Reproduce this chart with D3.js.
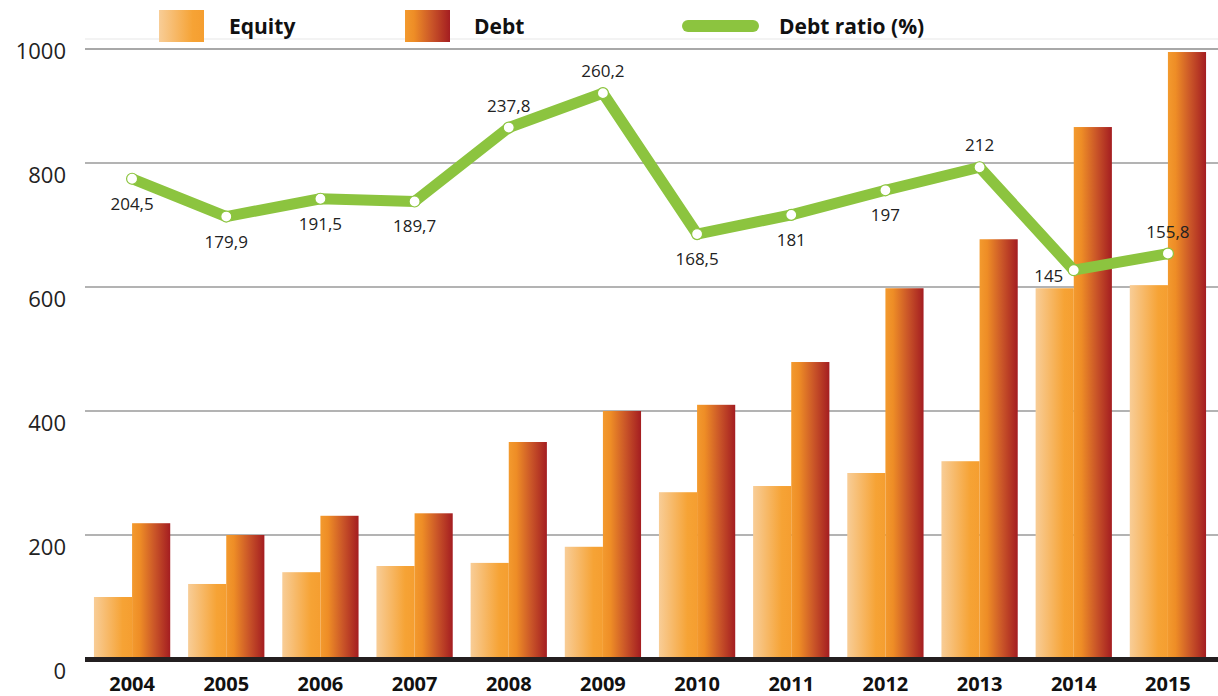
<!DOCTYPE html>
<html>
<head>
<meta charset="utf-8">
<script src="https://cdn.jsdelivr.net/npm/d3@7"></script>
<style>
  body { margin: 0; background: #fff; }
  svg { display: block; font-family: "Open Sans", "Noto Sans", sans-serif; }
</style>
</head>
<body>
<script>
// chart data
var years = ["2004", "2005", "2006", "2007", "2008", "2009", "2010", "2011", "2012", "2013", "2014", "2015"];
var equity = [100, 121, 140, 150, 155, 181, 269, 279, 300, 319, 598, 603];
var debt = [219, 200, 231, 235, 350, 400, 410, 479, 598, 677, 858, 979];
var debtRatio = [204.5, 179.9, 191.5, 189.7, 237.8, 260.2, 168.5, 181, 197, 212, 145, 155.8];
var yTicks = [0, 200, 400, 600, 800, 1000];
// where each ratio label sits relative to its point
var labelSide = ["below", "below", "below", "below", "above", "above", "below", "below", "below", "above", "left", "above"];

var width = 1218, height = 696;
var left = 85, right = 1215, bottom = 659;

var svg = d3.select("body").append("svg")
    .attr("width", width)
    .attr("height", height);

var defs = svg.append("defs");
var gEq = defs.append("linearGradient").attr("id", "gradEquity")
    .attr("x1", 0).attr("x2", 1).attr("y1", 0).attr("y2", 0);
gEq.append("stop").attr("offset", "0%").attr("stop-color", "#f8cd97");
gEq.append("stop").attr("offset", "75%").attr("stop-color", "#f6a335");
gEq.append("stop").attr("offset", "100%").attr("stop-color", "#f59e30");
var gDebt = defs.append("linearGradient").attr("id", "gradDebt")
    .attr("x1", 0).attr("x2", 1).attr("y1", 0).attr("y2", 0);
gDebt.append("stop").attr("offset", "0%").attr("stop-color", "#f39a2e");
gDebt.append("stop").attr("offset", "20%").attr("stop-color", "#ee8d26");
gDebt.append("stop").attr("offset", "60%").attr("stop-color", "#c95428");
gDebt.append("stop").attr("offset", "100%").attr("stop-color", "#a41d21");

// scales
var x0 = d3.scaleBand().domain(years).range([left, right])
    .paddingInner(0.19).paddingOuter(0.095);
var x1 = d3.scaleBand().domain(["equity", "debt"]).range([0, x0.bandwidth()]);
var y = d3.scaleLinear().domain([0, 1000]).range([bottom, bottom - 620]);
var y2 = d3.scaleLinear().domain([0, 300]).range([493, 32]);

// grid lines
svg.append("g").selectAll("line")
    .data(yTicks.filter(function(d) { return d > 0; }))
    .enter().append("line")
    .attr("x1", left).attr("x2", width)
    .attr("y1", function(d) { return y(d); })
    .attr("y2", function(d) { return y(d); })
    .attr("stroke", function(d) { return d === 1000 ? "#efefef" : "#9a9a9a"; })
    .attr("stroke-width", 1.3);

// top frame line
svg.append("line")
    .attr("x1", left).attr("x2", width)
    .attr("y1", 49).attr("y2", 49)
    .attr("stroke", "#a8a8a8").attr("stroke-width", 2);

// y labels
svg.append("g").selectAll("text")
    .data(yTicks)
    .enter().append("text")
    .attr("x", 66)
    .attr("y", function(d) { return y(d) + 20; })
    .attr("text-anchor", "end")
    .attr("font-size", 22)
    .attr("fill", "#222")
    .text(function(d) { return d; });

// bars
var groups = svg.append("g").selectAll("g")
    .data(years)
    .enter().append("g")
    .attr("transform", function(d) { return "translate(" + x0(d) + ",0)"; });

groups.append("rect")
    .attr("x", x1("equity"))
    .attr("width", x1.bandwidth())
    .attr("y", function(d, i) { return y(equity[i]); })
    .attr("height", function(d, i) { return y(0) - y(equity[i]); })
    .attr("fill", "url(#gradEquity)");

groups.append("rect")
    .attr("x", x1("debt"))
    .attr("width", x1.bandwidth())
    .attr("y", function(d, i) { return y(debt[i]); })
    .attr("height", function(d, i) { return y(0) - y(debt[i]); })
    .attr("fill", "url(#gradDebt)");

// baseline
svg.append("line")
    .attr("x1", left).attr("x2", width)
    .attr("y1", y(0) + 0.5).attr("y2", y(0) + 0.5)
    .attr("stroke", "#231f20").attr("stroke-width", 5);

// x labels
svg.append("g").selectAll("text")
    .data(years)
    .enter().append("text")
    .attr("x", function(d) { return x0(d) + x0.bandwidth() / 2; })
    .attr("y", 691)
    .attr("text-anchor", "middle")
    .attr("font-size", 20)
    .attr("font-weight", 700)
    .attr("fill", "#111")
    .text(function(d) { return d; });

// debt ratio line
var ratioData = years.map(function(d, i) { return {year: d, value: debtRatio[i], side: labelSide[i]}; });
var cx = function(d) { return x0(d.year) + x0.bandwidth() / 2; };

var ratioLine = d3.line()
    .x(cx)
    .y(function(d) { return y2(d.value); });

svg.append("path")
    .datum(ratioData)
    .attr("d", ratioLine)
    .attr("fill", "none")
    .attr("stroke", "#8cc43f")
    .attr("stroke-width", 11)
    .attr("stroke-linejoin", "round");

svg.append("g").selectAll("circle")
    .data(ratioData)
    .enter().append("circle")
    .attr("cx", cx)
    .attr("cy", function(d) { return y2(d.value); })
    .attr("r", 5.5)
    .attr("fill", "#fff")
    .attr("stroke", "#8cc43f")
    .attr("stroke-width", 1.2);

svg.append("g").selectAll("text")
    .data(ratioData)
    .enter().append("text")
    .attr("x", function(d) { return cx(d) + (d.side === "left" ? -25 : 0); })
    .attr("y", function(d) {
        var py = y2(d.value);
        if (d.side === "below") return py + 31;
        if (d.side === "above") return py - 16;
        return py + 12;
    })
    .attr("text-anchor", "middle")
    .attr("font-size", 17)
    .attr("fill", "#222")
    .text(function(d) { return String(d.value).replace(".", ","); });

// legend
var legend = svg.append("g");
legend.append("rect").attr("x", 159).attr("y", 10).attr("width", 45).attr("height", 32)
    .attr("fill", "url(#gradEquity)");
legend.append("text").attr("x", 229).attr("y", 34).attr("font-size", 21).attr("font-weight", 700)
    .attr("fill", "#111").text("Equity");
legend.append("rect").attr("x", 405).attr("y", 10).attr("width", 45).attr("height", 32)
    .attr("fill", "url(#gradDebt)");
legend.append("text").attr("x", 474).attr("y", 34).attr("font-size", 21).attr("font-weight", 700)
    .attr("fill", "#111").text("Debt");
legend.append("line").attr("x1", 688).attr("x2", 753).attr("y1", 26).attr("y2", 26)
    .attr("stroke", "#8cc43f").attr("stroke-width", 12).attr("stroke-linecap", "round");
legend.append("text").attr("x", 779).attr("y", 34).attr("font-size", 21).attr("font-weight", 700)
    .attr("fill", "#111").text("Debt ratio (%)");
</script>
</body>
</html>
